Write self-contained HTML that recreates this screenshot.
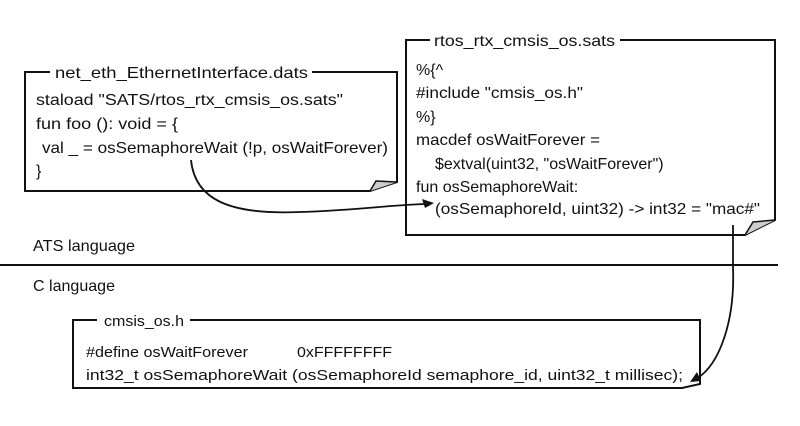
<!DOCTYPE html>
<html><head><meta charset="utf-8"><style>
body{margin:0;background:#fff;}
svg text{font-family:"Liberation Sans",sans-serif;font-size:16px;fill:#111;}
</style></head><body>
<svg width="800" height="421" viewBox="0 0 800 421" xmlns="http://www.w3.org/2000/svg">
<g fill="none" stroke="#111" stroke-width="2">
<path d="M50,72 H25 V191 H370 L397,182 V72 H312"/>
<path d="M370,191 L376,181 L397,182" fill="#ccc" stroke-width="1.5"/>
<path d="M430,40 H406 V235 H745 L775,220 V40 H620"/>
<path d="M745,235 L753,222 L775,220" fill="#ccc" stroke-width="1.5"/>
<path d="M97,320 H73 V388 H682 L700,384 V320 H190"/>
<path d="M0,265 H778"/>
<path d="M191,160 C195,200 230,215 300,212 C360,210 390,205 425,204" stroke-width="1.8"/>
<path d="M733,225 V268 C735,320 720,365 696,379" stroke-width="1.8"/>
</g>
<path d="M434,203 L422,199 L425,208 Z" fill="#111"/>
<path d="M690,382 L697,372 L701,381 Z" fill="#111"/>
<text x="55" y="78" textLength="253" lengthAdjust="spacingAndGlyphs">net_eth_EthernetInterface.dats</text>
<text x="36" y="105" textLength="307" lengthAdjust="spacingAndGlyphs">staload "SATS/rtos_rtx_cmsis_os.sats"</text>
<text x="36" y="129" textLength="142" lengthAdjust="spacingAndGlyphs">fun foo (): void = {</text>
<text x="42" y="153" textLength="346" lengthAdjust="spacingAndGlyphs">val _ = osSemaphoreWait (!p, osWaitForever)</text>
<text x="36" y="176">}</text>
<text x="434" y="46" textLength="181" lengthAdjust="spacingAndGlyphs">rtos_rtx_cmsis_os.sats</text>
<text x="416" y="75">%{^</text>
<text x="416" y="98" textLength="167" lengthAdjust="spacingAndGlyphs">#include "cmsis_os.h"</text>
<text x="416" y="122">%}</text>
<text x="416" y="145" textLength="184" lengthAdjust="spacingAndGlyphs">macdef osWaitForever =</text>
<text x="435" y="169" style="font-size:16px">$extval(uint32, "osWaitForever")</text>
<text x="416" y="192" style="font-size:16px">fun osSemaphoreWait:</text>
<text x="435" y="214" textLength="325" lengthAdjust="spacingAndGlyphs">(osSemaphoreId, uint32) -&gt; int32 = "mac#"</text>
<text x="33" y="251" textLength="102" lengthAdjust="spacingAndGlyphs">ATS language</text>
<text x="33" y="291" textLength="82" lengthAdjust="spacingAndGlyphs">C language</text>
<text x="104" y="326" style="font-size:15px" textLength="80" lengthAdjust="spacingAndGlyphs">cmsis_os.h</text>
<text x="86" y="357" style="font-size:15px" textLength="162" lengthAdjust="spacingAndGlyphs">#define osWaitForever</text>
<text x="297" y="357" style="font-size:15px" textLength="95" lengthAdjust="spacingAndGlyphs">0xFFFFFFFF</text>
<text x="86" y="380" style="font-size:15px" textLength="597" lengthAdjust="spacingAndGlyphs">int32_t osSemaphoreWait (osSemaphoreId semaphore_id, uint32_t millisec);</text>
</svg>
</body></html>
